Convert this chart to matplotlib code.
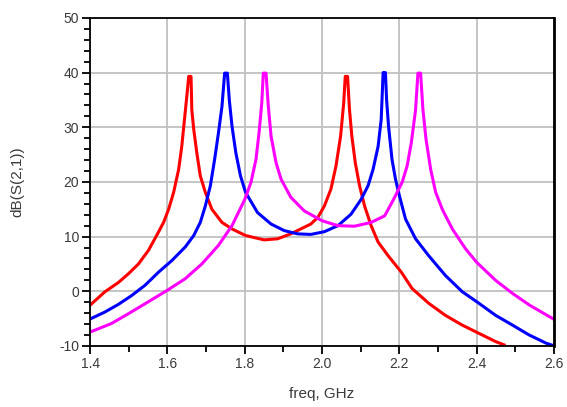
import matplotlib
matplotlib.use("Agg")
import matplotlib.pyplot as plt
from matplotlib.ticker import MultipleLocator

# values (freq in GHz, dB(S(2,1)))
red_f = [1.402, 1.438, 1.473, 1.499, 1.525, 1.551, 1.572, 1.590, 1.603, 1.616, 1.629, 1.637,
         1.644, 1.650, 1.655, 1.661, 1.663, 1.668, 1.676, 1.685, 1.698, 1.715, 1.741, 1.767,
         1.802, 1.850, 1.885, 1.919, 1.945, 1.971, 1.989, 2.006, 2.023, 2.036, 2.048, 2.056,
         2.060, 2.066, 2.071, 2.077, 2.086, 2.097, 2.110, 2.127, 2.145, 2.171, 2.205, 2.233,
         2.276, 2.319, 2.363, 2.406, 2.449, 2.471]
red_db = [-2.4, -0.1, 1.6, 3.2, 5.0, 7.5, 10.2, 12.6, 15.0, 18.1, 22.3, 26.5,
          31.4, 35.6, 39.3, 39.3, 33.2, 29.6, 25.3, 21.1, 18.1, 15.0, 12.6, 11.4,
          10.2, 9.4, 9.6, 10.5, 11.4, 12.3, 13.5, 15.6, 18.7, 22.9, 28.4, 34.4,
          39.3, 39.3, 33.2, 28.4, 23.5, 19.3, 15.6, 12.0, 9.0, 6.5, 3.5, 0.5,
          -2.2, -4.4, -6.2, -7.7, -9.2, -9.8]

blue_f = [1.402, 1.438, 1.473, 1.507, 1.542, 1.577, 1.611, 1.646, 1.668, 1.685, 1.698, 1.711,
          1.722, 1.732, 1.741, 1.748, 1.755, 1.760, 1.767, 1.777, 1.789, 1.802, 1.833, 1.868,
          1.902, 1.937, 1.971, 2.006, 2.041, 2.075, 2.101, 2.119, 2.132, 2.145, 2.153, 2.158,
          2.164, 2.167, 2.172, 2.181, 2.190, 2.200, 2.216, 2.242, 2.276, 2.319, 2.363, 2.400,
          2.449, 2.493, 2.536, 2.580, 2.597]
blue_db = [-5.0, -3.8, -2.4, -0.8, 1.1, 3.5, 5.6, 8.1, 10.2, 12.6, 15.6, 19.3,
           24.1, 29.0, 33.8, 39.9, 39.9, 35.0, 30.2, 25.3, 21.1, 18.1, 14.4, 12.3,
           11.1, 10.5, 10.4, 10.9, 12.0, 14.1, 16.8, 19.3, 22.3, 26.5, 31.4, 40.0,
           40.0, 35.0, 30.2, 24.1, 20.5, 17.5, 13.2, 9.6, 6.5, 2.9, -0.1, -1.9,
           -4.4, -6.2, -8.0, -9.5, -9.9]

mag_f = [1.402, 1.455, 1.499, 1.551, 1.600, 1.646, 1.689, 1.732, 1.767, 1.800, 1.816, 1.829,
         1.837, 1.844, 1.848, 1.855, 1.861, 1.868, 1.881, 1.894, 1.919, 1.954, 2.000, 2.041,
         2.084, 2.127, 2.162, 2.185, 2.207, 2.220, 2.231, 2.242, 2.248, 2.255, 2.261, 2.269,
         2.281, 2.294, 2.311, 2.337, 2.371, 2.400, 2.449, 2.493, 2.536, 2.597]
mag_db = [-7.4, -5.9, -4.1, -1.9, 0.2, 2.3, 5.0, 8.4, 12.0, 16.8, 19.9, 24.1,
          29.0, 34.4, 39.9, 39.9, 33.8, 28.4, 23.5, 20.5, 17.2, 14.7, 12.9, 12.0,
          11.9, 12.6, 13.8, 16.8, 19.9, 22.9, 27.2, 33.2, 39.9, 39.9, 33.2, 27.8,
          22.3, 18.1, 15.0, 11.4, 7.8, 5.3, 2.0, -0.4, -2.5, -5.0]

x_ticks = [1.4, 1.6, 1.8, 2.0, 2.2, 2.4, 2.6]
y_ticks = [-10, 0, 10, 20, 30, 40, 50]

fig = plt.figure(figsize=(5.67, 4.07), dpi=100)
ax = fig.add_axes([0.159, 0.150, 0.818, 0.806])

ax.plot(red_f, red_db, color="#ff0000", lw=2.2)
ax.plot(blue_f, blue_db, color="#0000ff", lw=2.2)
ax.plot(mag_f, mag_db, color="#ff00ff", lw=2.2)

ax.set_xlim(1.4, 2.6)
ax.set_ylim(-10, 50)
ax.set_xticks(x_ticks)
ax.set_yticks(y_ticks)
ax.set_xticklabels([f"{v:.1f}" for v in x_ticks])
ax.set_yticklabels([str(v) for v in y_ticks])
ax.xaxis.set_minor_locator(MultipleLocator(0.1))
ax.yaxis.set_minor_locator(MultipleLocator(2))

ax.grid(True, which="major", color="#c0c0c0", lw=1.3)
ax.set_axisbelow(True)
for s in ax.spines.values():
    s.set_color("black")
    s.set_linewidth(1.3)
ax.spines["right"].set_linewidth(2.0)

ax.tick_params(which="major", direction="out", length=6, width=1.3,
               labelsize=10, labelcolor="#3a3a3a", pad=2)
ax.tick_params(which="minor", direction="out", length=4, width=1.3)
ax.tick_params(top=False, right=False)
for lab in ax.get_xticklabels() + ax.get_yticklabels():
    lab.set_family("Liberation Sans")

ax.set_xlabel("freq, GHz", fontsize=11, family="Liberation Sans", color="#3a3a3a")
ax.set_ylabel("dB(S(2,1))", fontsize=11, family="Liberation Sans", color="#3a3a3a")
ax.xaxis.set_label_coords(0.498, -0.125)
ax.yaxis.set_label_coords(-0.142, 0.5)

fig.savefig("out.png", dpi=100)
